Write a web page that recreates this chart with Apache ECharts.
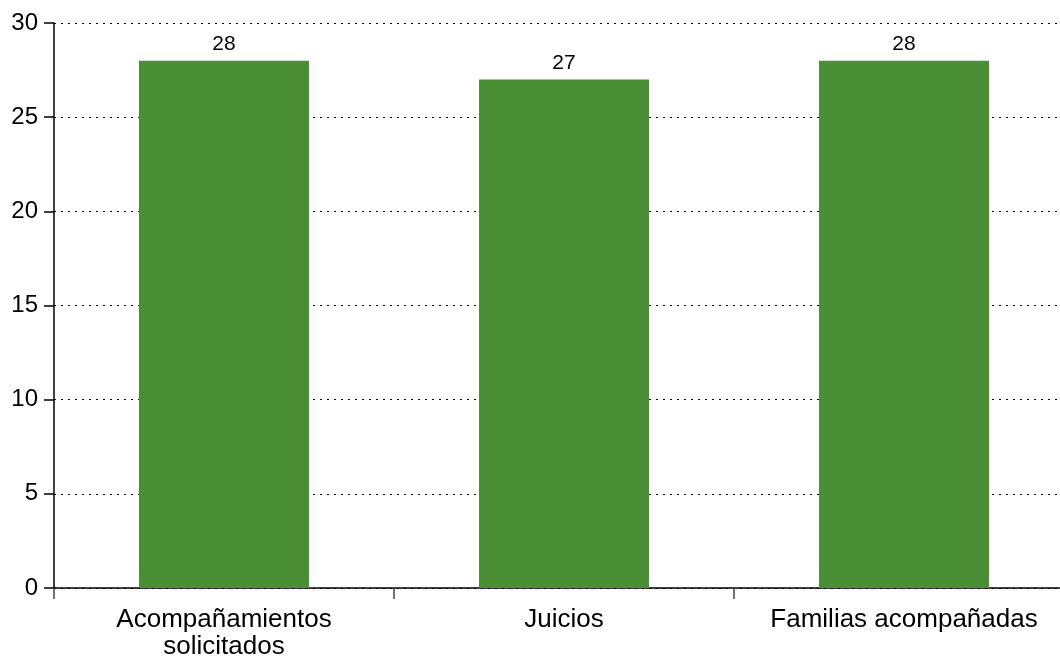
<!DOCTYPE html>
<html>
<head>
<meta charset="utf-8">
<script src="https://cdn.jsdelivr.net/npm/echarts@6/dist/echarts.min.js"></script>
<style>
  html, body { margin: 0; padding: 0; background: #fff; }
  #chart { width: 1060px; height: 660px; }
</style>
</head>
<body>
<div id="chart"></div>
<script>
// datos del gráfico
var categories = ['Acompañamientos\nsolicitados', 'Juicios', 'Familias acompañadas']
var values = [28, 27, 28]
var yTicks = [0, 5, 10, 15, 20, 25, 30]

var chart = echarts.init(document.getElementById('chart'))
var font = 'Liberation Sans, Helvetica, Arial, sans-serif'

chart.setOption({
  animation: false,
  grid: {
    left: 54,
    width: 1020,
    top: 23,
    bottom: 72,
    outerBoundsMode: 'none',
    containLabel: false
  },
  xAxis: {
    type: 'category',
    data: categories,
    axisLine: { lineStyle: { color: '#000', width: 1.5 } },
    axisTick: { show: true, interval: 0, length: 11, lineStyle: { color: '#444', width: 1.5 } },
    axisLabel: {
      interval: 0,
      hideOverlap: false,
      fontSize: 26,
      color: '#000',
      fontFamily: font,
      margin: 18,
      lineHeight: 27
    }
  },
  yAxis: {
    type: 'value',
    min: yTicks[0],
    max: yTicks[yTicks.length - 1],
    interval: 5,
    axisLine: { show: true, lineStyle: { color: '#000', width: 1.5 } },
    axisTick: { show: true, length: 10, lineStyle: { color: '#000', width: 1.5 } },
    axisLabel: {
      fontSize: 24,
      color: '#000',
      fontFamily: font,
      margin: 16
    },
    splitLine: {
      show: true,
      lineStyle: { type: [2, 5], color: '#000', width: 1.2 }
    }
  },
  series: [
    {
      type: 'bar',
      data: values,
      barWidth: '50%',
      itemStyle: { color: '#4a8f35' },
      label: {
        show: true,
        position: 'top',
        distance: 6,
        fontSize: 21,
        color: '#000',
        fontFamily: font
      }
    }
  ]
})
</script>
</body>
</html>
